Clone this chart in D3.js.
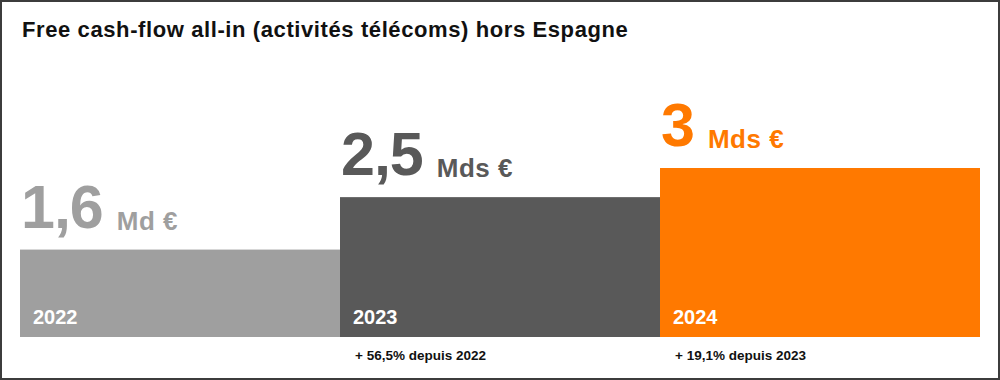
<!DOCTYPE html>
<html><head><meta charset="utf-8">
<script src="https://cdn.jsdelivr.net/npm/d3@7"></script>
<style>
html,body{margin:0;padding:0;background:#fff;}
svg{display:block;font-family:"Liberation Sans",Arial,Helvetica,sans-serif;font-weight:bold;}
</style></head>
<body>
<svg id="chart" width="1000" height="380"></svg>
<script>
const title = "Free cash-flow all-in (activités télécoms) hors Espagne";
const years = ["2022", "2023", "2024"];
const values = [1.6, 2.5, 3];
const valueLabels = ["1,6", "2,5", "3"];
const units = ["Md €", "Mds €", "Mds €"];
const growthNotes = ["", "+ 56,5% depuis 2022", "+ 19,1% depuis 2023"];
const colors = ["#9f9f9f", "#595959", "#ff7900"];

const W = 1000, H = 380;
const svg = d3.select("#chart");

svg.append("rect").attr("x", 1).attr("y", 1).attr("width", W - 2).attr("height", H - 2)
  .attr("fill", "#fff").attr("stroke", "#3c3c3c").attr("stroke-width", 2);

svg.append("text").attr("x", 22).attr("y", 37).attr("font-size", 22)
  .attr("letter-spacing", 0.6).attr("fill", "#111")
  .text(title);

const x = d3.scaleBand().domain(years).range([20, 980]).padding(0);
const y = d3.scaleLinear().domain([0.1, 3]).range([337, 168]);

const g = svg.selectAll("g.bar").data(years).join("g").attr("class", "bar");

g.append("rect")
  .attr("x", d => x(d))
  .attr("y", (d, i) => y(values[i]))
  .attr("width", x.bandwidth())
  .attr("height", (d, i) => y(0.1) - y(values[i]))
  .attr("fill", (d, i) => colors[i]);

g.append("text")
  .attr("x", d => x(d) + 13)
  .attr("y", 324)
  .attr("font-size", 20)
  .attr("fill", "#fff")
  .text(d => d);

g.each(function(d, i) {
  const sel = d3.select(this);
  const bx = x(d);
  const by = y(values[i]);
  const num = sel.append("text")
    .attr("x", bx + 1)
    .attr("y", by - 22)
    .attr("font-size", 61)
    .attr("letter-spacing", -1)
    .attr("fill", colors[i])
    .text(valueLabels[i]);
  const w = num.node().getComputedTextLength();
  sel.append("text")
    .attr("x", bx + 1 + w + 14)
    .attr("y", by - 20)
    .attr("font-size", 26)
    .attr("letter-spacing", 0.5)
    .attr("fill", colors[i])
    .text(units[i]);
  if (growthNotes[i]) {
    sel.append("text")
      .attr("x", bx + 15)
      .attr("y", 360)
      .attr("font-size", 13.5)
      .attr("fill", "#111")
      .text(growthNotes[i]);
  }
});
</script>
</body></html>
